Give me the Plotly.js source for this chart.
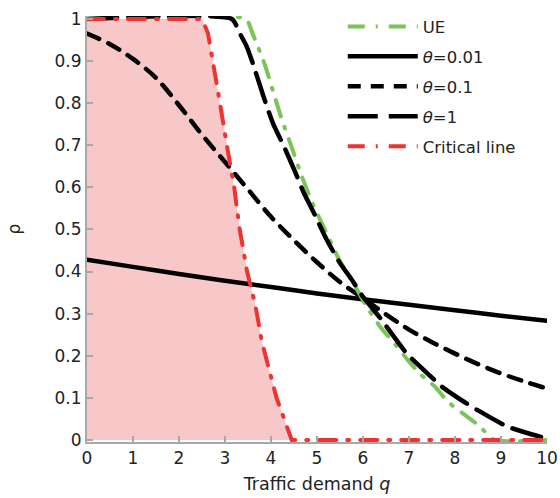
<!DOCTYPE html>
<html>
<head>
<meta charset="utf-8">
<script src="https://cdn.plot.ly/plotly-3.0.1.min.js"></script>
<style>
html,body{margin:0;padding:0;background:#fff;}
#chart{width:560px;height:498px;}
.scatterlayer .js-line{stroke-linecap:round;}
</style>
</head>
<body>
<div id="chart"></div>
<script>
// ---- data ----
const ueQ   = [0, 3.45, 3.6, 3.87, 4.05, 4.24, 4.46, 4.67, 4.91, 5.17, 5.46, 5.8, 6.1, 6.4, 6.7, 6.97, 7.24, 7.57, 7.85, 8.17, 8.54, 8.85, 10];
const ueRho = [1, 1, 0.965, 0.89, 0.826, 0.76, 0.692, 0.626, 0.56, 0.5, 0.433, 0.37, 0.313, 0.265, 0.227, 0.19, 0.157, 0.126, 0.09, 0.063, 0.032, 0, 0];

const t001Q   = [0, 1, 2, 3, 4, 5, 6, 7, 8, 9, 10];
const t001Rho = [0.428, 0.411, 0.394, 0.378, 0.363, 0.348, 0.334, 0.321, 0.308, 0.295, 0.283];

const t01Q   = [0, 0.5, 1, 1.5, 2, 2.5, 3, 3.5, 4, 4.5, 5, 5.5, 6, 6.5, 7, 7.5, 8, 8.5, 9, 9.5, 10];
const t01Rho = [0.965, 0.94, 0.905, 0.86, 0.795, 0.725, 0.66, 0.595, 0.53, 0.474, 0.422, 0.375, 0.337, 0.298, 0.262, 0.232, 0.205, 0.18, 0.158, 0.139, 0.122];

const t1Q   = [0, 3.15, 3.3, 3.47, 3.6, 3.83, 4.05, 4.27, 4.52, 4.7, 4.96, 5.2, 5.5, 5.76, 6.0, 6.37, 6.96, 7.46, 7.72, 8.26, 8.5, 9.13, 9.46, 10];
const t1Rho = [1, 1, 0.97, 0.935, 0.896, 0.818, 0.75, 0.70, 0.638, 0.59, 0.533, 0.478, 0.42, 0.38, 0.34, 0.29, 0.204, 0.152, 0.126, 0.086, 0.07, 0.032, 0.02, 0.003];

const critQ   = [0, 2.5, 2.63, 2.74, 2.89, 3.04, 3.2, 3.32, 3.48, 3.66, 3.8, 4.12, 4.45, 10];
const critRho = [1, 1, 0.966, 0.9, 0.8, 0.7, 0.6, 0.5, 0.4, 0.32, 0.234, 0.1, 0, 0];

const xTickVals = [0, 1, 2, 3, 4, 5, 6, 7, 8, 9, 10];
const xTickText = ['0', '1', '2', '3', '4', '5', '6', '7', '8', '9', '10'];
const yTickVals = [0, 0.1, 0.2, 0.3, 0.4, 0.5, 0.6, 0.7, 0.8, 0.9, 1];
const yTickText = ['0', '0.1', '0.2', '0.3', '0.4', '0.5', '0.6', '0.7', '0.8', '0.9', '1'];

const seriesNames = ['UE', '<i>θ</i>=0.01', '<i>θ</i>=0.1', '<i>θ</i>=1', 'Critical line'];

// ---- traces ----
const traces = [
  { // pink infeasible region under the critical line
    x: critQ, y: critRho, type: 'scatter', mode: 'lines',
    fill: 'tozeroy', fillcolor: '#f8c8c8',
    line: {width: 0, color: 'rgba(0,0,0,0)'},
    showlegend: false, hoverinfo: 'skip'
  },
  {
    x: t001Q, y: t001Rho, name: seriesNames[1], type: 'scatter', mode: 'lines',
    line: {color: '#000000', width: 4.5, dash: 'solid', shape: 'spline'},
    legendrank: 2, legendgroup: 'g2'
  },
  {
    x: t01Q, y: t01Rho, name: seriesNames[2], type: 'scatter', mode: 'lines',
    line: {color: '#000000', width: 4.5, dash: '13px,10px', shape: 'spline'},
    legendrank: 3, legendgroup: 'g3'
  },
  {
    x: ueQ, y: ueRho, name: seriesNames[0], type: 'scatter', mode: 'lines',
    line: {color: '#7cc35a', width: 4, dash: '17px,11px,2px,11px', shape: 'spline', smoothing: 0.6},
    legendrank: 1, legendgroup: 'g1'
  },
  {
    x: t1Q, y: t1Rho, name: seriesNames[3], type: 'scatter', mode: 'lines',
    line: {color: '#000000', width: 4.5, dash: '30px,11px', shape: 'spline', smoothing: 0.6},
    legendrank: 4, legendgroup: 'g4'
  },
  {
    x: critQ, y: critRho, name: seriesNames[4], type: 'scatter', mode: 'lines',
    line: {color: '#ee3333', width: 4, dash: '17px,11px,2px,11px'},
    legendrank: 5, legendgroup: 'g5'
  }
];

const fam = '"DejaVu Sans", Verdana, sans-serif';
const txtColor = '#222222';

const layout = {
  width: 560, height: 498,
  margin: {l: 87, r: 13, t: 16, b: 56, autoexpand: false},
  paper_bgcolor: '#ffffff', plot_bgcolor: '#ffffff',
  font: {family: fam, size: 17, color: txtColor},
  showlegend: true,
  legend: {
    x: 0.556, y: 1.016, xanchor: 'left', yanchor: 'top',
    bgcolor: 'rgba(0,0,0,0)', borderwidth: 0,
    font: {family: fam, size: 16.5, color: txtColor},
    itemwidth: 70, tracegroupgap: 5.5, traceorder: 'grouped'
  },
  xaxis: {
    range: [0, 10], showgrid: false, zeroline: false,
    showline: true, linecolor: '#a8a8a8', linewidth: 2,
    ticks: 'inside', ticklen: 6, tickwidth: 2, tickcolor: '#a8a8a8',
    tickvals: xTickVals, ticktext: xTickText,
    tickfont: {family: fam, size: 17, color: txtColor},
    title: {text: 'Traffic demand <i>q</i>', font: {family: fam, size: 17.5, color: txtColor}, standoff: 10}
  },
  yaxis: {
    range: [-0.005, 1.007], showgrid: false, zeroline: false,
    showline: true, linecolor: '#a8a8a8', linewidth: 2,
    ticks: 'inside', ticklen: 6, tickwidth: 2, tickcolor: '#a8a8a8',
    tickvals: yTickVals, ticktext: yTickText,
    tickfont: {family: fam, size: 17, color: txtColor},
    title: {text: 'ρ', font: {family: fam, size: 17, color: txtColor}, standoff: 30}
  }
};

Plotly.newPlot('chart', traces, layout, {displayModeBar: false, staticPlot: true});
</script>
</body>
</html>
